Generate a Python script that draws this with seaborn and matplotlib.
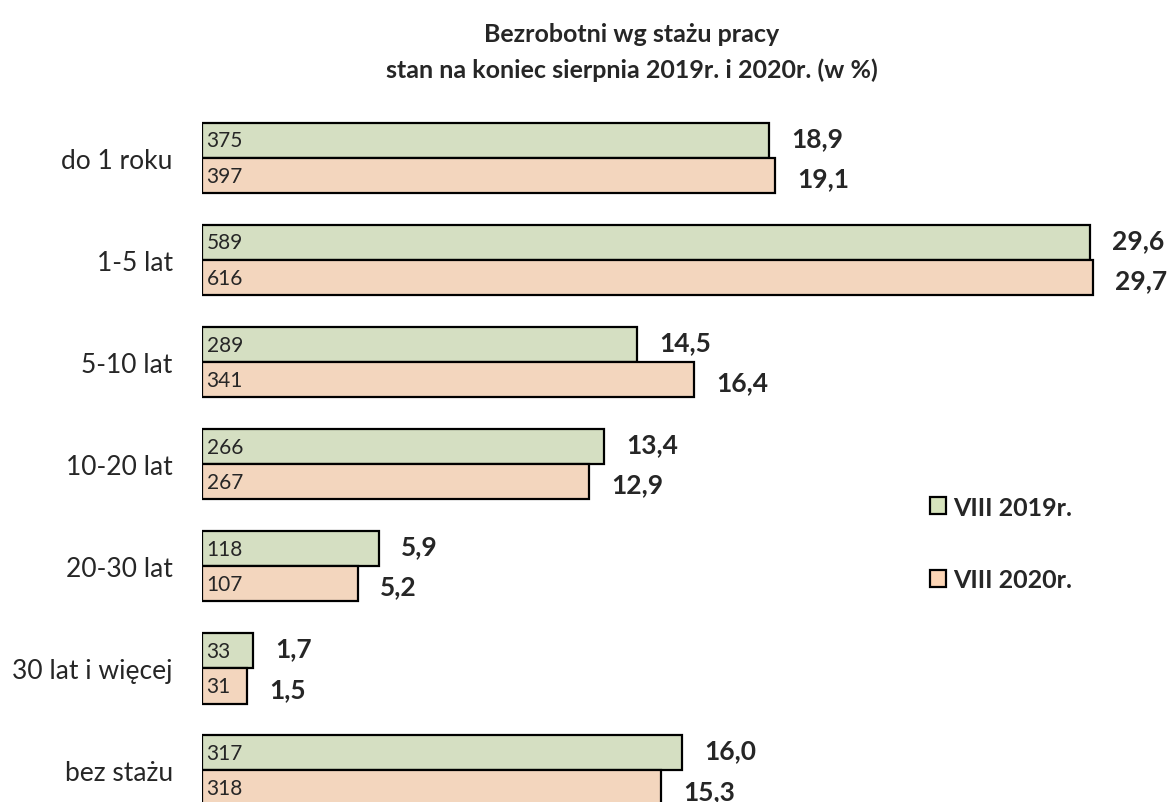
import matplotlib
matplotlib.use("Agg")
import matplotlib.pyplot as plt
import pandas as pd
import seaborn as sns

categories = ["do 1 roku", "1-5 lat", "5-10 lat", "10-20 lat", "20-30 lat",
              "30 lat i więcej", "bez stażu"]
series = ["VIII 2019r.", "VIII 2020r."]
pct_2019 = [18.9, 29.6, 14.5, 13.4, 5.9, 1.7, 16.0]
pct_2020 = [19.1, 29.7, 16.4, 12.9, 5.2, 1.5, 15.3]
cnt_2019 = [375, 589, 289, 266, 118, 33, 317]
cnt_2020 = [397, 616, 341, 267, 107, 31, 318]

colors = ["#D7E4BD", "#FCD5B5"]

df = pd.DataFrame({
    "kat": categories * 2,
    "pct": pct_2019 + pct_2020,
    "rok": [series[0]] * len(categories) + [series[1]] * len(categories),
})

sns.set_style("white")
plt.rcParams["font.family"] = ["Lato", "DejaVu Sans"]

W, H = 1172, 803
fig = plt.figure(figsize=(W / 100, H / 100), dpi=100)
ax = fig.add_axes([202 / W, 0, 960 / W, (803 - 108) / H])

sns.barplot(data=df, y="kat", x="pct", hue="rok", orient="h", order=categories,
            hue_order=series, palette=colors, edgecolor="black", linewidth=1.6,
            width=0.69, ax=ax, legend=False)

ax.set_xlim(0, 32)
ax.set_ylim(6.31, -0.5)
for s in ax.spines.values():
    s.set_visible(False)
ax.set_xticks([])
ax.set_xlabel("")
ax.set_ylabel("")
ax.tick_params(axis="y", length=0, pad=21, labelsize=19)

counts = [cnt_2019, cnt_2020]
dy = [2, -2]  # pct labels: 2019 slightly up, 2020 slightly down (points)
for cont, cnts, off in zip(ax.containers, counts, dy):
    for bar, c, v in zip(cont.patches, cnts, cont.datavalues):
        yc = bar.get_y() + bar.get_height() / 2
        ax.text(0.15, yc, str(c), ha="left", va="center", fontsize=15)
        ax.annotate(f"{v:.1f}".replace(".", ","), (bar.get_width(), yc),
                    xytext=(16, off), textcoords="offset points",
                    ha="left", va="center", fontsize=19, fontweight="bold",
                    annotation_clip=False)

fig.text(632 / W, 1 - 35 / H, "Bezrobotni wg stażu pracy", ha="center", va="center",
         fontsize=18, fontweight="bold")
fig.text(632 / W, 1 - 70 / H, "stan na koniec sierpnia 2019r. i 2020r. (w %)",
         ha="center", va="center", fontsize=18, fontweight="bold")

handles = [plt.Rectangle((0, 0), 1, 1, facecolor=c, edgecolor="black", linewidth=1.6)
           for c in colors]
fig.legend(handles, series, loc="upper left", bbox_to_anchor=(907 / W, 1 - 474 / H),
           frameon=False, handlelength=0.65, handleheight=0.65, handletextpad=0.3,
           labelspacing=2.0, prop={"size": 18, "weight": "bold"})

fig.savefig("out.png", dpi=100)
